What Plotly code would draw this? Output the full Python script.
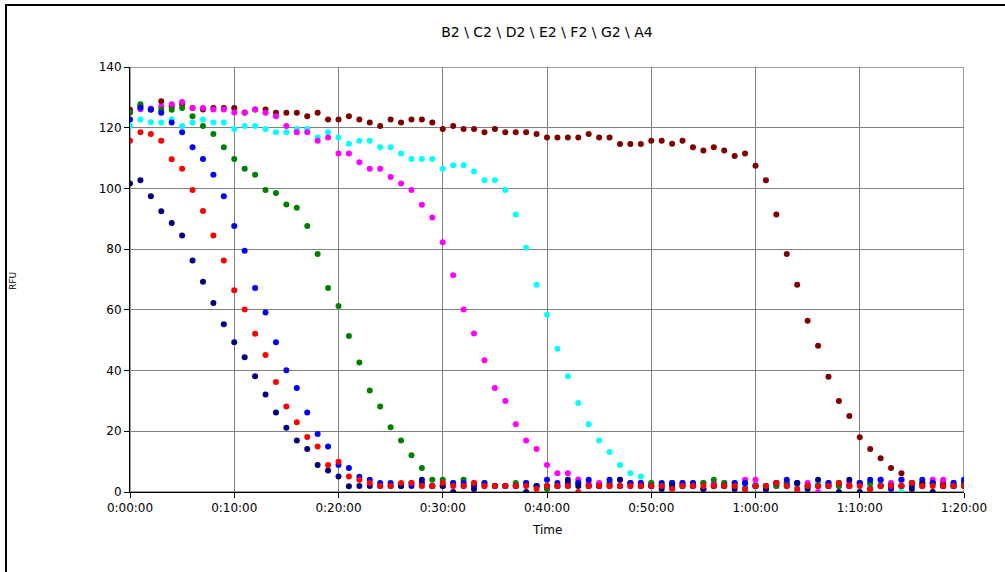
import plotly.graph_objects as go

# Sampling time in minutes (one reading per minute, 0:00:00 .. 1:20:00)
minutes = list(range(81))

tick_vals = [0, 10, 20, 30, 40, 50, 60, 70, 80]
tick_text = ["0:00:00", "0:10:00", "0:20:00", "0:30:00", "0:40:00",
             "0:50:00", "1:00:00", "1:10:00", "1:20:00"]

# RFU readings per well
b2 = [101.6, 102.7, 97.4, 92.5, 88.6, 84.5, 76.3, 69.3, 62.3, 55.3,
      49.3, 44.4, 38.1, 32.1, 26.2, 21.2, 17.0, 14.2, 8.9, 7.1,
      5.1, 1.9,
      2, 2, 2, 2, 2, 3, 4, 2, 2, 0,
      2, 1, 2, 2, 2, 2, 0, 2, 2, 2,
      4, 2, 2, 2, 2, 4, 2, 2, 2, 1,
      2, 2, 2, 1, 2, 2, 1, 1, 2, 1,
      3, 2, 3, 1, 4, 2, 0, 4, 0, 1,
      2, 2, 2, 1, 3, 0, 2, 2, 2]

c2 = [115.7, 118.5, 117.9, 115.7, 109.6, 106.5, 99.5, 92.6, 84.5, 76.3,
      66.5, 60.1, 52.1, 45.1, 36.2, 28.2, 23.0, 18.1, 15.0, 8.9,
      10.0, 5.1,
      4, 3, 2, 2, 3, 3, 2, 2, 3, 2,
      2, 3, 2, 2, 2, 2, 2, 1, 2, 2,
      2, 0, 2, 2, 2, 2, 2, 2, 2, 2,
      1, 2, 2, 2, 2, 2, 2, 1, 2, 2,
      3, 2, 1, 2, 2, 2, 3, 2, 2, 1,
      2, 2, 2, 3, 2, 2, 2, 2, 2]

d2 = [122.7, 126.6, 126.0, 124.9, 121.7, 118.5, 113.6, 109.7, 104.5, 97.4,
      87.6, 79.5, 67.2, 59.1, 49.3, 40.1, 34.3, 26.2, 19.1, 15.0,
      8.9, 7.9,
      5, 4, 3, 3, 2, 2, 3, 2, 2, 3,
      3, 2, 3, 2, 2, 2, 3, 2, 4, 3,
      3, 3, 4, 2, 4, 2, 3, 3, 2, 3,
      3, 3, 3, 1, 2, 2, 3, 3, 2, 1,
      3, 4, 3, 2, 2, 3, 3, 2, 3, 4,
      4, 1, 4, 2, 4, 3, 2, 3, 4]

e2 = [125.0, 127.7, 126.0, 125.9, 125.9, 126.5, 123.8, 120.6, 117.9, 113.6,
      109.7, 106.5, 104.5, 99.5, 98.5, 94.7, 93.6, 87.6, 78.4, 67.2,
      61.3, 51.4, 42.7, 33.4, 28.2, 21.3, 17.0, 12.1, 7.9,
      4, 4, 3, 4, 3, 3, 2, 2, 3, 3,
      2, 1, 2, 2, 3, 2, 2, 3, 2, 3,
      2, 3, 2, 3, 2, 3, 3, 4, 3, 2,
      3, 2, 2, 2, 3, 3, 2, 2, 3, 2,
      2, 3, 3, 2, 2, 2, 3, 3, 3, 2,
      2, 3]

f2 = [125.0, 126.1, 126.3, 127.0, 127.7, 128.5, 126.5, 126.5, 126.0, 126.0,
      125.0, 124.9, 126.0, 124.9, 123.8, 120.6, 118.5, 118.5, 115.7, 116.8,
      111.5, 111.5, 108.6, 106.5, 106.5, 103.8, 101.6, 99.5, 94.6, 90.4,
      82.3, 71.4, 60.1, 52.2, 43.4, 34.3, 30.0, 22.3, 17.0, 14.2,
      8.9, 6.2, 6.2, 4.1, 3,
      3, 3, 4, 3, 3, 2, 2, 3, 3, 2,
      3, 3, 3, 3, 4, 4, 2, 2, 3, 0,
      3, 0, 2, 2, 3, 3, 3, 4, 3, 4,
      3, 2, 4, 4, 3, 3]

g2 = [120.6, 122.7, 121.8, 121.7, 122.7, 120.6, 121.7, 122.7, 121.7, 121.7,
      119.6, 120.6, 120.6, 119.6, 118.5, 118.5, 119.6, 119.6, 116.8, 118.5,
      116.8, 114.7, 115.7, 115.7, 113.6, 113.6, 111.5, 109.7, 109.7, 109.7,
      106.5, 107.6, 107.6, 105.6, 102.7, 102.7, 99.5, 91.4, 80.5, 68.3,
      58.4, 47.2, 38.1, 29.3, 22.3, 17.0, 13.2, 8.9, 6.2, 5.1,
      3,
      3, 3, 3, 2, 3, 2, 3, 2, 2, 3,
      2, 2, 3, 2, 2, 3, 2, 3, 2, 3,
      2, 3, 3, 0, 3, 2, 3, 2, 3, 3]

a4 = [125.9, 127.0, 126.0, 128.7, 127.0, 127.7, 126.5, 126.0, 126.5, 126.5,
      126.5, 125.0, 126.0, 126.0, 124.9, 124.9, 124.9, 123.8, 124.9, 122.7,
      122.7, 123.8, 122.7, 121.7, 120.6, 122.7, 121.7, 122.7, 122.7, 121.7,
      119.6, 120.6, 119.6, 119.6, 118.5, 119.6, 118.5, 118.5, 118.5, 117.9,
      116.8, 116.8, 116.8, 116.8, 117.9, 116.8, 116.8, 114.6, 114.6, 114.6,
      115.7, 115.7, 114.7, 115.7, 113.6, 112.5, 113.6, 112.5, 110.7, 111.5,
      107.5, 102.7, 91.4, 78.4, 68.3, 56.4, 48.2, 38.0, 30.0, 25.0,
      18.0, 14.2, 11.1, 7.9, 6.2,
      3, 2, 3, 3, 2, 3]

# drawing order: later wells sit on top
series = [
    ("A4", a4, "#800000"),
    ("G2", g2, "#00FFFF"),
    ("F2", f2, "#FF00FF"),
    ("E2", e2, "#008000"),
    ("D2", d2, "#0000FF"),
    ("B2", b2, "#000080"),
    ("C2", c2, "#FF0000"),
]

fig = go.Figure()
for name, vals, color in series:
    fig.add_trace(go.Scatter(
        x=minutes[:len(vals)], y=vals, name=name, mode="markers",
        marker=dict(size=6, color=color, line=dict(width=0)),
    ))

font = "DejaVu Sans, Liberation Sans, Arial, sans-serif"

fig.update_layout(
    width=1005, height=572,
    margin=dict(l=130, r=41, t=67, b=80),
    paper_bgcolor="white", plot_bgcolor="white",
    showlegend=False,
    font=dict(family=font, size=12, color="black"),
    title=dict(text="B2 \\ C2 \\ D2 \\ E2 \\ F2 \\ G2 \\ A4",
               x=0.5, xref="paper", xanchor="center",
               y=1 - 32 / 572, yanchor="middle",
               font=dict(family=font, size=14, color="black")),
    xaxis=dict(range=[0, 80], tickvals=tick_vals, ticktext=tick_text,
               showgrid=True, gridcolor="#808080", gridwidth=1,
               showline=True, linecolor="black", linewidth=1,
               ticks="outside", ticklen=5, tickcolor="black",
               zeroline=False, tickfont=dict(size=12)),
    yaxis=dict(range=[0, 140], dtick=20,
               showgrid=True, gridcolor="#808080", gridwidth=1,
               showline=True, linecolor="black", linewidth=1,
               ticks="outside", ticklen=5, tickcolor="black",
               zeroline=False, tickfont=dict(size=12)),
    annotations=[
        dict(text="Time", x=0.5, y=(492 - 530) / 425, xref="paper", yref="paper",
             showarrow=False, xanchor="center", yanchor="middle",
             font=dict(family=font, size=12)),
        dict(text="RFU", x=(13 - 130) / 834, y=0.4965, xref="paper", yref="paper",
             showarrow=False, textangle=-90, xanchor="center", yanchor="middle",
             font=dict(family=font, size=9)),
    ],
    shapes=[
        # plot-area border
        dict(type="rect", xref="x", yref="y", x0=0, x1=80, y0=0, y1=140,
             line=dict(color="#808080", width=1.5), layer="below"),
        # outer chart frame
        dict(type="rect", xref="paper", yref="paper",
             x0=(6 - 130) / 834, x1=1.2, y0=-0.4, y1=(492 - 5) / 425,
             line=dict(color="black", width=2), layer="below"),
    ],
)

fig.write_html("out.html")
